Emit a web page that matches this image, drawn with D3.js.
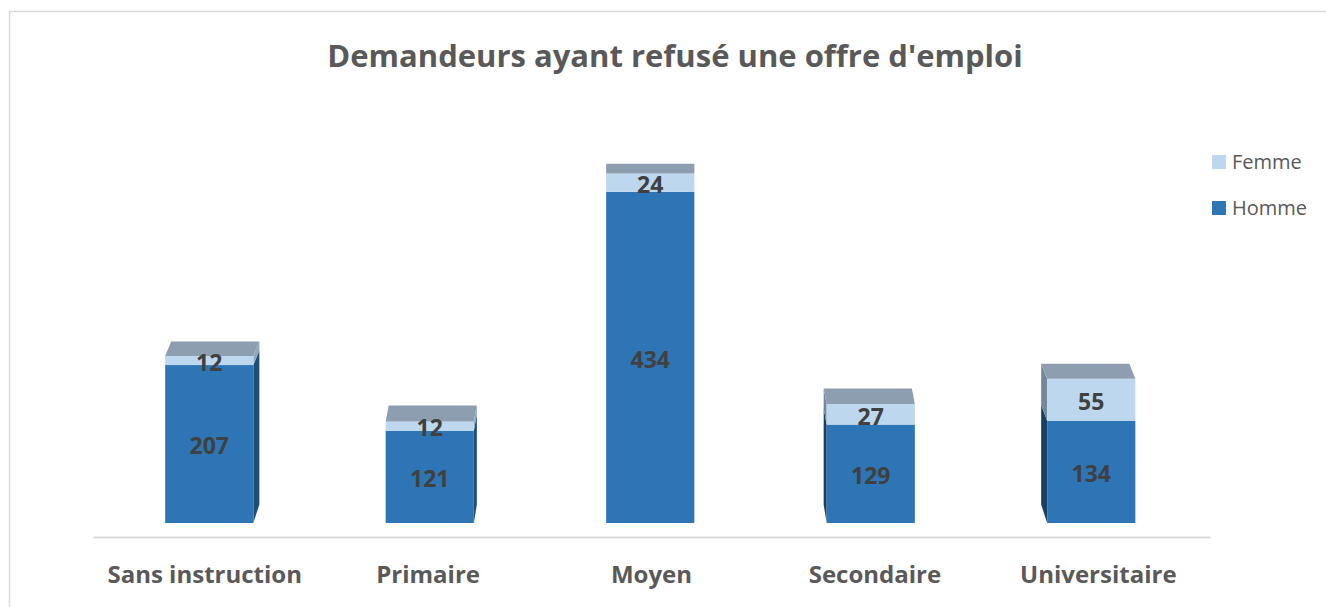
<!DOCTYPE html>
<html>
<head>
<meta charset="utf-8">
<script src="https://cdn.jsdelivr.net/npm/d3@7"></script>
<style>
  body { margin: 0; background: #fff; }
  svg { display: block; }
</style>
</head>
<body>
<div id="chart"></div>
<script>
const categories = ['Sans instruction', 'Primaire', 'Moyen', 'Secondaire', 'Universitaire'];
const homme = [207, 121, 434, 129, 134];
const femme = [12, 12, 24, 27, 55];
const seriesNames = ['Femme', 'Homme'];
const title = "Demandeurs ayant refusé une offre d'emploi";

const W = 1326;
const H = 607;
const colors = { Homme: '#2e75b6', Femme: '#bdd7ee' };
const topColor = '#8d9eb0';
const sideColor = { Homme: '#1f4e79', Femme: '#8ea8c0' };

const svg = d3.select('#chart').append('svg')
  .attr('width', W)
  .attr('height', H);

// chart frame
svg.append('rect')
  .attr('x', 9.5).attr('y', 11.5)
  .attr('width', W + 10).attr('height', H + 10)
  .attr('fill', '#fff')
  .attr('stroke', '#d9d9d9')
  .attr('stroke-width', 1.5);

svg.append('text')
  .attr('x', 675)
  .attr('y', 67)
  .attr('text-anchor', 'middle')
  .attr('font-family', 'Open Sans, sans-serif')
  .attr('font-weight', 700)
  .attr('font-size', '31px')
  .attr('fill', '#595959')
  .text(title);

const data = categories.map((c, i) => ({ cat: c, Homme: homme[i], Femme: femme[i] }));
const stack = d3.stack().keys(['Homme', 'Femme'])(data);

// floor (axis) scale and bar scale, bars sit a little behind the floor edge
const xAxis = d3.scaleBand().domain(categories).range([93, 1210]);
const x = d3.scaleBand().domain(categories).range([99, 1201.5])
  .paddingInner(0.6).paddingOuter(0.3);
const y = d3.scaleLinear().domain([0, 500]).range([523, 141.5]);

// fake perspective: depth of top face and horizontal shift
const vx = 651;
const depth = (py) => 16 - (422 - py) * 0.025;
const shift = (cx) => (vx - cx) * 0.0136;

const g = svg.append('g');

const bars = g.selectAll('.bar')
  .data(data)
  .enter().append('g')
  .attr('class', 'bar');

bars.each(function drawBar(d, i) {
  const bar = d3.select(this);
  const x0 = x(d.cat);
  const x1 = x0 + x.bandwidth();
  const dx = shift(x0 + x.bandwidth() / 2);
  const edge = dx > 0 ? x1 : x0;

  stack.forEach((s) => {
    const y0 = y(s[i][0]);
    const y1 = y(s[i][1]);
    // side face
    if (Math.abs(dx) > 0.5) {
      const pts = [
        [edge, y0], [edge, y1],
        [edge + dx, y1 - depth(y1)], [edge + dx, y0 - depth(y0)],
      ];
      bar.append('polygon')
        .attr('points', pts.map((p) => p.join(',')).join(' '))
        .attr('fill', dx > 0 ? sideColor[s.key] : d3.color(sideColor[s.key]).darker(0.6));
    }
    // front face
    bar.append('rect')
      .attr('x', x0)
      .attr('y', y1)
      .attr('width', x.bandwidth())
      .attr('height', y0 - y1)
      .attr('fill', colors[s.key]);
  });

  // top face
  const yt = y(d.Homme + d.Femme);
  const dt = depth(yt);
  const top = [[x0, yt], [x1, yt], [x1 + dx, yt - dt], [x0 + dx, yt - dt]];
  bar.append('polygon')
    .attr('points', top.map((p) => p.join(',')).join(' '))
    .attr('fill', topColor);

  // value labels
  stack.forEach((s) => {
    const ym = (y(s[i][0]) + y(s[i][1])) / 2;
    bar.append('text')
      .attr('x', x0 + x.bandwidth() / 2)
      .attr('y', ym + 2)
      .attr('dy', '0.36em')
      .attr('text-anchor', 'middle')
      .attr('font-family', 'Open Sans, sans-serif')
      .attr('font-weight', 700)
      .attr('font-size', '23px')
      .attr('fill', '#404040')
      .text(s[i].data[s.key]);
  });
});

// category axis on the floor edge
const axis = svg.append('g')
  .attr('transform', 'translate(0,537)')
  .call(d3.axisBottom(xAxis).tickSize(0).tickPadding(29));
axis.select('.domain').attr('stroke', '#d9d9d9').attr('stroke-width', 2);
axis.selectAll('text')
  .attr('font-family', 'Open Sans, sans-serif')
  .attr('font-weight', 700)
  .attr('font-size', '24px')
  .attr('fill', '#595959');

// legend
const legend = svg.append('g')
  .selectAll('g')
  .data(seriesNames)
  .enter().append('g')
  .attr('transform', (d, i) => `translate(1212,${155 + i * 46})`);
legend.append('rect')
  .attr('width', 14).attr('height', 14)
  .attr('fill', (d) => colors[d]);
legend.append('text')
  .attr('x', 20).attr('y', 7)
  .attr('dy', '0.35em')
  .attr('font-family', 'Open Sans, sans-serif')
  .attr('font-size', '20px')
  .attr('fill', '#595959')
  .text((d) => d);
</script>
</body>
</html>
